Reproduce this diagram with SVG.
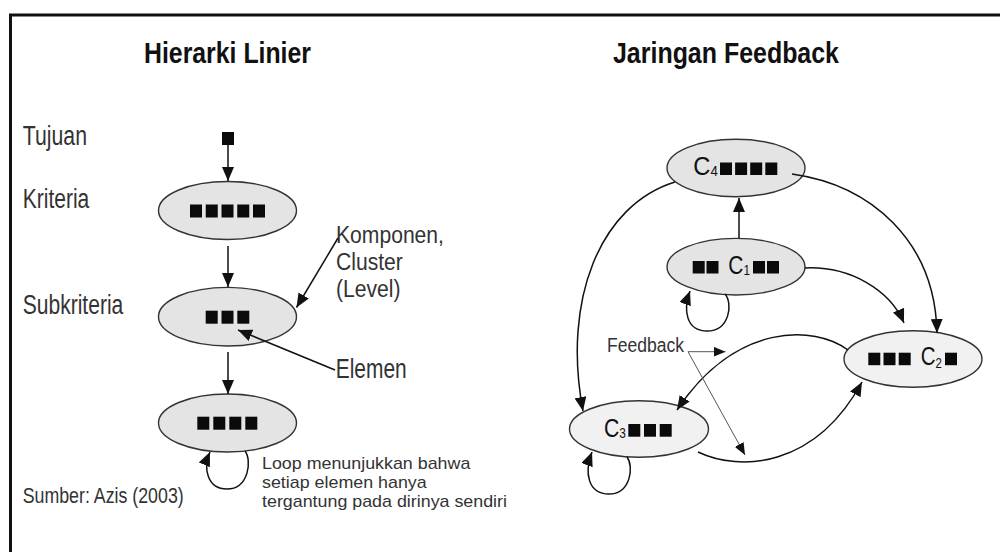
<svg xmlns="http://www.w3.org/2000/svg" width="1000" height="552" viewBox="0 0 1000 552">
<style>
.t{font-family:"Liberation Sans Narrow","Arial Narrow","Liberation Sans",Arial,sans-serif;fill:#333}
.w{font-family:"Liberation Sans",Arial,sans-serif;fill:#333}
.h{font-weight:bold;font-size:30px;fill:#111}
.lb{font-size:27px}
.sm{font-size:20px}
.c{font-family:"Liberation Sans",Arial,sans-serif;font-size:25px;fill:#111}
.sub{font-size:14px}
.n1{fill:#e4e4e4;stroke:#333;stroke-width:1.4}
.n2{fill:#f1f1f1;stroke:#333;stroke-width:1.4}
.sq{fill:#0a0a0a}
.ln{fill:none;stroke:#111;stroke-width:1.5}
.fb{fill:none;stroke:#555;stroke-width:1}
</style>
<defs>
<marker id="ah" markerUnits="userSpaceOnUse" markerWidth="14" markerHeight="12" viewBox="0 0 14 12" refX="14" refY="6" orient="auto">
<path d="M0,0 L14,6 L0,12 z" fill="#111"/>
</marker>
<marker id="ahs" markerUnits="userSpaceOnUse" markerWidth="12" markerHeight="10" viewBox="0 0 12 10" refX="12" refY="5" orient="auto">
<path d="M0,0 L12,5 L0,10 z" fill="#111"/>
</marker>
</defs>
<rect x="0" y="0" width="1000" height="552" fill="#fff"/>
<rect x="10.5" y="15" width="1000" height="560" fill="none" stroke="#111" stroke-width="3"/>

<g id="titles">
<text class="t h" x="144" y="63" textLength="167" lengthAdjust="spacingAndGlyphs">Hierarki Linier</text>
<text class="t h" x="613" y="63" textLength="226" lengthAdjust="spacingAndGlyphs">Jaringan Feedback</text>
</g>

<g id="labels">
<text class="t lb" x="22.7" y="145" textLength="64.3" lengthAdjust="spacingAndGlyphs">Tujuan</text>
<text class="t lb" x="22.7" y="208" textLength="66.6" lengthAdjust="spacingAndGlyphs">Kriteria</text>
<text class="t lb" x="22.7" y="314" textLength="100.6" lengthAdjust="spacingAndGlyphs">Subkriteria</text>
<text class="w" font-size="24" transform="translate(336,0) scale(0.88,1)"><tspan x="0" y="243.5">Komponen,</tspan><tspan x="0" y="270.5">Cluster</tspan><tspan x="0" y="297.5">(Level)</tspan></text>
<text class="t lb" x="335.7" y="378" textLength="71" lengthAdjust="spacingAndGlyphs">Elemen</text>
<text class="w" font-size="17" transform="translate(262,0) scale(1.05,1)"><tspan x="0" y="469.5">Loop menunjukkan bahwa</tspan><tspan x="0" y="488.5">setiap elemen hanya</tspan><tspan x="0" y="507.5">tergantung pada dirinya sendiri</tspan></text>
<text class="t" x="22.7" y="503" font-size="22" textLength="161" lengthAdjust="spacingAndGlyphs">Sumber: Azis (2003)</text>
<text class="t sm" x="607" y="351.7" textLength="77" lengthAdjust="spacingAndGlyphs">Feedback</text>
</g>

<g id="tujuan">
<rect class="sq" x="222" y="132" width="12" height="13"/>
</g>

<g id="kriteria">
<ellipse class="n1" cx="227.5" cy="210.5" rx="69" ry="29"/>
<rect class="sq" x="190" y="204.5" width="12" height="13"/>
<rect class="sq" x="205.75" y="204.5" width="12" height="13"/>
<rect class="sq" x="221.5" y="204.5" width="12" height="13"/>
<rect class="sq" x="237.25" y="204.5" width="12" height="13"/>
<rect class="sq" x="253" y="204.5" width="12" height="13"/>
</g>

<g id="subkriteria">
<ellipse class="n1" cx="227.5" cy="316.7" rx="69" ry="29.3"/>
<rect class="sq" x="205.7" y="310.7" width="12" height="13"/>
<rect class="sq" x="221.5" y="310.7" width="12" height="13"/>
<rect class="sq" x="237.3" y="310.7" width="12" height="13"/>
</g>

<g id="level3">
<ellipse class="n1" cx="227.5" cy="423" rx="69" ry="29"/>
<rect class="sq" x="197.3" y="416.7" width="12" height="13"/>
<rect class="sq" x="213.3" y="416.7" width="12" height="13"/>
<rect class="sq" x="229.3" y="416.7" width="12" height="13"/>
<rect class="sq" x="245.3" y="416.7" width="12" height="13"/>
</g>

<g id="c4">
<ellipse class="n1" cx="736" cy="168" rx="69" ry="28.7"/>
<text class="c" transform="translate(693.3,175) scale(0.95,1)">C<tspan class="sub" dy="1">4</tspan></text>
<rect class="sq" x="720" y="162.5" width="12" height="12.5"/>
<rect class="sq" x="735.1" y="162.5" width="12" height="12.5"/>
<rect class="sq" x="750.2" y="162.5" width="12" height="12.5"/>
<rect class="sq" x="765.3" y="162.5" width="12" height="12.5"/>
</g>

<g id="c1">
<ellipse class="n1" cx="736" cy="266.7" rx="69" ry="28.3"/>
<rect class="sq" x="692.7" y="261" width="12" height="12.5"/>
<rect class="sq" x="706.5" y="261" width="12" height="12.5"/>
<text class="c" transform="translate(728.3,274) scale(0.84,1)">C<tspan class="sub" dy="1">1</tspan></text>
<rect class="sq" x="753" y="261" width="12" height="12.5"/>
<rect class="sq" x="767" y="261" width="12" height="12.5"/>
</g>

<g id="c2">
<ellipse class="n2" cx="913" cy="359" rx="69" ry="28.3"/>
<rect class="sq" x="868.3" y="352.7" width="12" height="12.5"/>
<rect class="sq" x="883.5" y="352.7" width="12" height="12.5"/>
<rect class="sq" x="898.7" y="352.7" width="12" height="12.5"/>
<text class="c" transform="translate(920.7,365) scale(0.82,1)">C<tspan class="sub" dy="3">2</tspan></text>
<rect class="sq" x="945" y="352.7" width="12" height="12.5"/>
</g>

<g id="c3">
<ellipse class="n2" cx="639" cy="429" rx="69.5" ry="28.3"/>
<text class="c" transform="translate(604,436.7) scale(0.85,1)">C<tspan class="sub" dy="1">3</tspan></text>
<rect class="sq" x="628.3" y="424" width="12" height="12.7"/>
<rect class="sq" x="644" y="424" width="12" height="12.7"/>
<rect class="sq" x="659.7" y="424" width="12" height="12.7"/>
</g>

<g id="connectors">
<path class="ln" d="M228,145 L228,181" marker-end="url(#ah)"/>
<path class="ln" d="M228,246 L228,287" marker-end="url(#ah)"/>
<path class="ln" d="M228,352 L228,394" marker-end="url(#ah)"/>
<path class="ln" d="M338,238 L296.5,307.5" marker-end="url(#ah)"/>
<path class="ln" d="M335,370 L238,330" marker-end="url(#ah)"/>
<path class="ln" d="M245,451 C252,460 249,489 227,489 C207,489 203,468 210,452" marker-end="url(#ah)"/>
<path class="ln" d="M739,238 L739,198" marker-end="url(#ah)"/>
<path class="ln" d="M725,294 C733,303 730,331 707,331 C686,331 683,310 690,291" marker-end="url(#ah)"/>
<path class="ln" d="M675,182 C600,205 562,300 583,411" marker-end="url(#ah)"/>
<path class="ln" d="M792,174 C870,185 935,240 937,333" marker-end="url(#ah)"/>
<path class="ln" d="M805,268 C850,266 890,290 904,323" marker-end="url(#ah)"/>
<path class="ln" d="M848,350 C815,325 735,322 677,410" marker-end="url(#ah)"/>
<path class="ln" d="M698,452 C740,472 815,468 862,382" marker-end="url(#ah)"/>
<path class="ln" d="M627,457 C634,466 631,494 609,494 C588,494 584,473 592,452" marker-end="url(#ah)"/>
<path class="fb" d="M688,351.7 L725.5,351.7" marker-end="url(#ahs)"/>
<path class="fb" d="M688,351.7 L745,455" marker-end="url(#ahs)"/>
</g>
</svg>
